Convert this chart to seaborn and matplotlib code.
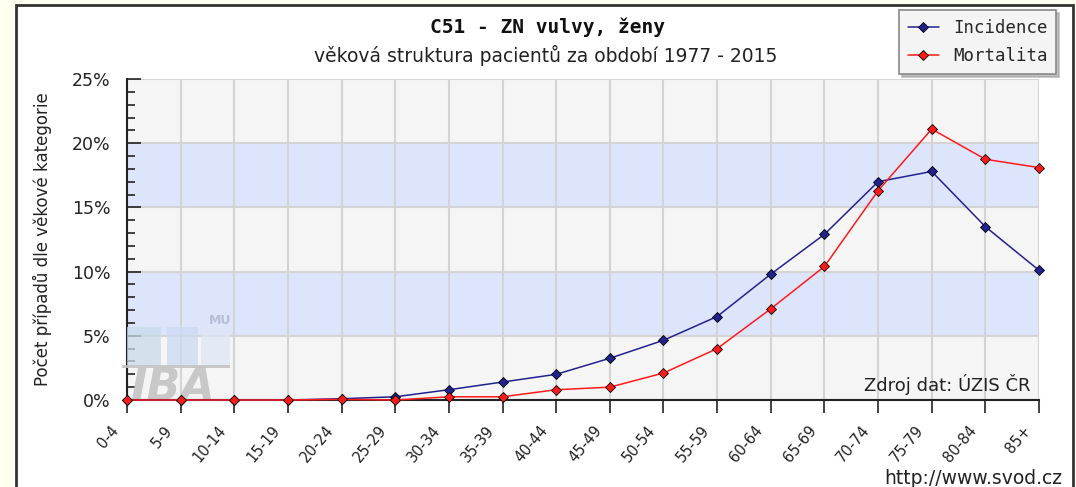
import numpy as np
import pandas as pd
import matplotlib
matplotlib.use('Agg')
import matplotlib.pyplot as plt
import matplotlib.transforms as mtransforms
import seaborn as sns
from matplotlib.patches import Rectangle

# vekove kategorie a podily pripadu (%)
kategorie = ['0-4', '5-9', '10-14', '15-19', '20-24', '25-29', '30-34', '35-39', '40-44',
             '45-49', '50-54', '55-59', '60-64', '65-69', '70-74', '75-79', '80-84', '85+']
incidence = [0, 0, 0, 0, 0.1, 0.25, 0.8, 1.4, 2.0, 3.25, 4.65, 6.5, 9.8, 12.9, 17.0, 17.8, 13.5, 10.1]
mortalita = [0, 0, 0, 0, 0.05, 0.0, 0.25, 0.25, 0.8, 1.0, 2.1, 4.0, 7.1, 10.4, 16.3, 21.1, 18.75, 18.1]
y_ticks = [0, 5, 10, 15, 20, 25]

df = pd.DataFrame({'kategorie': kategorie * 2,
                   'procento': incidence + mortalita,
                   'serie': ['Incidence'] * len(kategorie) + ['Mortalita'] * len(kategorie)})
df['pozice'] = df['kategorie'].map({k: i for i, k in enumerate(kategorie)})

sns.set_style('white')
plt.rcParams['font.family'] = ['DejaVu Sans']

W, H = 1076, 487
fig = plt.figure(figsize=(W / 100, H / 100), dpi=100, facecolor='#fffff0')

# ramecek panelu
ramecek = Rectangle((16 / W, -0.05), (1073 - 16) / W, 1.05 - 5 / H,
                    transform=fig.transFigure, facecolor='white',
                    edgecolor='#333333', linewidth=2, zorder=-10)
fig.patches.append(ramecek)

ax = fig.add_axes([127 / W, 1 - 400 / H, (1039 - 127) / W, (400 - 79) / H])
ax.set_facecolor('#f5f5f5')
for lo in (5, 15):
    ax.axhspan(lo, lo + 5, color='#dde5fc', zorder=0, lw=0)

sns.lineplot(data=df, x='pozice', y='procento', hue='serie', style='serie',
             palette={'Incidence': '#22228e', 'Mortalita': '#ff1a1a'},
             markers={'Incidence': 'D', 'Mortalita': 'D'}, dashes=False,
             markersize=5, markeredgecolor='black', markeredgewidth=0.6,
             linewidth=1.1, ax=ax, zorder=5, clip_on=False)

ax.set_xlim(0, len(kategorie) - 1)
ax.set_ylim(0, 25)
ax.set_xticks(range(len(kategorie)))
ax.set_xticklabels(kategorie, rotation=50, ha='right', va='center', rotation_mode='anchor', fontsize=10.5)
ax.set_yticks(y_ticks)
ax.set_yticklabels([f'{v}%' for v in y_ticks], fontsize=12.5)
ax.set_yticks(np.arange(0, 26, 1), minor=True)
ax.tick_params(axis='y', which='both', left=True, colors='#222222')
ax.tick_params(axis='y', which='major', direction='in', length=10, width=1.2, pad=12)
ax.tick_params(axis='y', which='minor', direction='in', length=6, width=1.2)
ax.tick_params(axis='x', bottom=True, direction='out', length=9, width=1.2, pad=11, colors='#222222')
# popisky posunout doleva (po tick_params, jinak se transformace prepise)
posun = mtransforms.ScaledTranslation(-0.11, 0, fig.dpi_scale_trans)
for lab in ax.get_xticklabels():
    lab.set_transform(lab.get_transform() + posun)
ax.grid(True, which='major', color='#d4d4d4', linewidth=1.5, zorder=1)
ax.set_axisbelow(True)
for s in ('top', 'right'):
    ax.spines[s].set_visible(False)
for s in ('left', 'bottom'):
    ax.spines[s].set_color('#222222')
    ax.spines[s].set_linewidth(1.5)
ax.set_xlabel('')
ax.set_ylabel('Počet případů dle věkové kategorie', fontsize=12, labelpad=14, color='#222222')

# vodoznak
for x0, w0, c0 in ((127, 34, '#c9dbe9'), (167, 31, '#cbdaf3'), (201, 29, '#dde6f5')):
    fig.patches.append(Rectangle((x0 / W, 1 - 365 / H), w0 / W, 38 / H, transform=fig.transFigure,
                                 facecolor=c0, edgecolor='none', alpha=0.75, zorder=1))
fig.patches.append(Rectangle((122 / W, 1 - 368 / H), 108 / W, 3 / H, transform=fig.transFigure,
                             facecolor='#c4c4c4', edgecolor='none', alpha=0.9, zorder=1))
ax.text(0.05, 0, 'IBA', fontsize=32, fontweight='bold', style='italic',
        color='#c8c8c8', zorder=2, va='baseline', ha='left')
ax.text(1.52, 5.9, 'MU', fontsize=9, fontweight='bold', color='#b4bfd6', zorder=2)

ax.text(16.85, 0.4, 'Zdroj dat: ÚZIS ČR', fontsize=13, ha='right', va='bottom', color='#222222', zorder=6)

fig.text(547 / W, 1 - 27 / H, 'C51 - ZN vulvy, ženy', family='DejaVu Sans Mono',
         fontweight='bold', fontsize=14, ha='center', va='center', color='#111111')
fig.text(546 / W, 1 - 55 / H, 'věková struktura pacientů za období 1977 - 2015',
         fontsize=13.5, ha='center', va='center', color='#222222')
fig.text(1062 / W, 1 - 478 / H, 'http://www.svod.cz', fontsize=13.5, ha='right', va='center', color='#222222')

leg = ax.legend(loc='upper right', bbox_to_anchor=(1056 / W, 1 - 10 / H), bbox_transform=fig.transFigure,
                frameon=True, fancybox=False, shadow={'color': '#999999', 'alpha': 0.6},
                edgecolor='#888888', facecolor='#f4f4f4', borderaxespad=0,
                prop={'family': 'DejaVu Sans Mono', 'size': 12.5}, handlelength=1.8,
                handletextpad=0.8, borderpad=0.5, labelspacing=0.6, title=None)
leg.get_frame().set_linewidth(1.2)

plt.savefig('out.png', dpi=100, facecolor=fig.get_facecolor())
